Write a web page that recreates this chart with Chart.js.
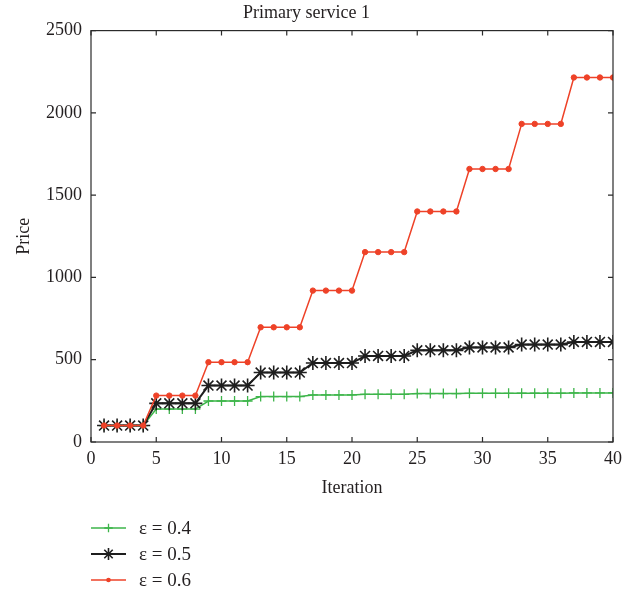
<!DOCTYPE html>
<html>
<head>
<meta charset="utf-8">
<script src="https://cdn.jsdelivr.net/npm/chart.js@4/dist/chart.umd.min.js"></script>
<style>
  html, body { margin: 0; padding: 0; background: #ffffff; }
  #wrap { position: relative; width: 634px; height: 593px; }
</style>
</head>
<body>
<div id="wrap"><canvas id="c" width="634" height="593"></canvas></div>
<script>
const chartTitle = "Primary service 1";
const xAxisTitle = "Iteration";
const yAxisTitle = "Price";
const xTicks = [0, 5, 10, 15, 20, 25, 30, 35, 40];
const yTicks = [0, 500, 1000, 1500, 2000, 2500];
const iterations = [1,2,3,4,5,6,7,8,9,10,11,12,13,14,15,16,17,18,19,20,21,22,23,24,25,26,27,28,29,30,31,32,33,34,35,36,37,38,39,40];
const seriesNames = ["\u03b5 = 0.4", "\u03b5 = 0.5", "\u03b5 = 0.6"];
const eps04 = [100,100,100,100, 200,200,200,200, 249,249,249,249, 276,276,276,276, 286,286,286,286, 290,290,290,290, 294,294,294,294, 296,296,296,296, 297,297,297,297, 298,298,298,298];
const eps05 = [100,100,100,100, 235,235,235,235, 343,343,343,343, 422,422,422,422, 480,480,480,480, 523,523,523,523, 557,557,557,557, 575,575,575,575, 592,592,592,592, 608,608,608,608];
const eps06 = [100,100,100,100, 282,282,282,282, 485,485,485,485, 697,697,697,697, 920,920,920,920, 1154,1154,1154,1154, 1401,1401,1401,1401, 1659,1659,1659,1659, 1933,1933,1933,1933, 2215,2215,2215,2215];

const FONT = "'Liberation Serif', 'DejaVu Serif', serif";
const TXT = "#231f20";
const styles = [
  { color: "#3db54a", point: "cross", radius: 5, width: 1.5, pw: 1.3, order: 3 },
  { color: "#1e1e1e", point: "star", radius: 7, width: 2, pw: 1.6, order: 2 },
  { color: "#ee4228", point: "circle", radius: 2.7, width: 1.5, pw: 1, order: 1 }
];
const seriesData = [eps04, eps05, eps06];

function drawMarker(ctx, style, r, x, y, color, lw) {
  ctx.save();
  ctx.strokeStyle = color; ctx.fillStyle = color; ctx.lineWidth = lw;
  ctx.beginPath();
  if (style === "cross") {
    ctx.moveTo(x - r, y); ctx.lineTo(x + r, y);
    ctx.moveTo(x, y - r); ctx.lineTo(x, y + r);
    ctx.stroke();
  } else if (style === "star") {
    ctx.moveTo(x - r, y); ctx.lineTo(x + r, y);
    ctx.moveTo(x, y - r); ctx.lineTo(x, y + r);
    const d = r * Math.SQRT1_2;
    ctx.moveTo(x - d, y - d); ctx.lineTo(x + d, y + d);
    ctx.moveTo(x - d, y + d); ctx.lineTo(x + d, y - d);
    ctx.stroke();
  } else {
    ctx.arc(x, y, r, 0, Math.PI * 2); ctx.fill();
  }
  ctx.restore();
}

const framePlugin = {
  id: "frame",
  afterDatasetsDraw(chart) {
    const { ctx, chartArea: a, scales } = chart;
    ctx.save();
    ctx.strokeStyle = "#2b2b2b"; ctx.lineWidth = 1.2;
    ctx.strokeRect(a.left, a.top, a.right - a.left, a.bottom - a.top);
    const L = 5;
    ctx.beginPath();
    xTicks.forEach(v => {
      const px = scales.x.getPixelForValue(v);
      ctx.moveTo(px, a.bottom); ctx.lineTo(px, a.bottom - L);
      ctx.moveTo(px, a.top); ctx.lineTo(px, a.top + L);
    });
    yTicks.forEach(v => {
      const py = scales.y.getPixelForValue(v);
      ctx.moveTo(a.left, py); ctx.lineTo(a.left + L, py);
      ctx.moveTo(a.right, py); ctx.lineTo(a.right - L, py);
    });
    ctx.stroke();
    ctx.restore();
  },
  afterDraw(chart) {
    const ctx = chart.ctx;
    const rows = [528, 554, 580];
    ctx.save();
    seriesNames.forEach((name, i) => {
      const s = styles[i], y = rows[i];
      ctx.strokeStyle = s.color; ctx.lineWidth = s.width;
      ctx.beginPath(); ctx.moveTo(91, y); ctx.lineTo(126, y); ctx.stroke();
      drawMarker(ctx, s.point, s.radius * 0.85, 108.5, y, s.color, s.pw);
      ctx.fillStyle = TXT;
      ctx.font = "19px " + FONT;
      ctx.textBaseline = "middle"; ctx.textAlign = "left";
      ctx.fillText(name, 139, y + 1);
    });
    ctx.restore();
  }
};

new Chart(document.getElementById("c"), {
  type: "line",
  data: {
    datasets: seriesData.map((arr, i) => ({
      label: seriesNames[i],
      data: arr.map((v, k) => ({ x: iterations[k], y: v })),
      borderColor: styles[i].color,
      backgroundColor: styles[i].color,
      borderWidth: styles[i].width,
      pointStyle: styles[i].point,
      pointRadius: styles[i].radius,
      pointBorderWidth: styles[i].pw,
      pointBorderColor: styles[i].color,
      pointBackgroundColor: styles[i].color,
      tension: 0,
      fill: false,
      order: styles[i].order
    }))
  },
  options: {
    responsive: false,
    animation: false,
    devicePixelRatio: 1,
    layout: { padding: { left: 0, right: 21, top: 0, bottom: 91 } },
    plugins: {
      legend: { display: false },
      tooltip: { enabled: false },
      title: {
        display: true, text: chartTitle, color: TXT,
        font: { family: FONT, size: 18, weight: "normal" },
        padding: { top: 2, bottom: 7 }
      }
    },
    scales: {
      x: {
        type: "linear", min: 0, max: 40,
        afterFit(s) { s.height = 60; },
        afterBuildTicks(s) { s.ticks = xTicks.map(v => ({ value: v })); },
        grid: { display: false, drawTicks: false },
        border: { display: false },
        ticks: { color: TXT, padding: 6, maxRotation: 0, font: { family: FONT, size: 18 }, callback: v => String(v) },
        title: { display: true, text: xAxisTitle, color: TXT, font: { family: FONT, size: 18 }, padding: { top: 0, bottom: 3 } }
      },
      y: {
        type: "linear", min: 0, max: 2500,
        afterFit(s) { s.width = 91; },
        afterBuildTicks(s) { s.ticks = yTicks.map(v => ({ value: v })); },
        grid: { display: false, drawTicks: false },
        border: { display: false },
        ticks: { color: TXT, padding: 9, font: { family: FONT, size: 18 }, callback: v => String(v) },
        title: { display: true, text: yAxisTitle, color: TXT, font: { family: FONT, size: 18 }, padding: { top: 13, bottom: 0 } }
      }
    }
  },
  plugins: [framePlugin]
});
</script>
</body>
</html>
